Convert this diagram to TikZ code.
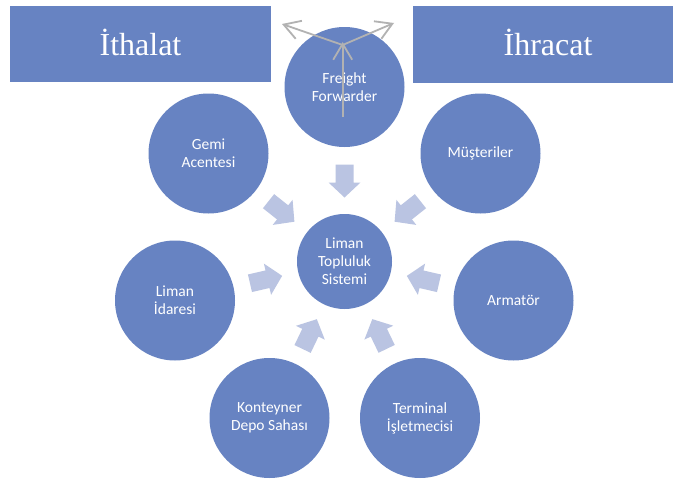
\documentclass[tikz,border=0pt]{standalone}
\usepackage{fontspec}
\setmainfont{Carlito}
\newfontfamily\boxfont{Liberation Serif}
\usetikzlibrary{arrows.meta,calc}
\definecolor{circblue}{RGB}{103,131,194}
\definecolor{arrowblue}{RGB}{186,196,226}
\definecolor{linegray}{RGB}{178,178,178}
\newcommand\inarrow[1]{%
  \coordinate (#1-tip) at ($(c)!64pt!(#1)$);
  \coordinate (#1-hb) at ($(c)!79pt!(#1)$);
  \coordinate (#1-tl) at ($(c)!97pt!(#1)$);
  \fill[arrowblue] ($(#1-tl)!9pt!90:(c)$) -- ($(#1-hb)!9pt!90:(c)$) -- ($(#1-hb)!16pt!90:(c)$) -- (#1-tip) -- ($(#1-hb)!16pt!-90:(c)$) -- ($(#1-hb)!9pt!-90:(c)$) -- ($(#1-tl)!9pt!-90:(c)$) -- cycle;}
\begin{document}
\begin{tikzpicture}[x=1pt,y=-1pt,
  outer/.style={circle, fill=circblue, minimum size=120pt, inner sep=0pt, text=white, align=center, font=\fontsize{15.5}{18}\selectfont},
  hub/.style={outer, minimum size=95pt},
  titlebox/.style={rectangle, fill=circblue, inner sep=0pt, text=white, font=\boxfont\fontsize{32}{38}\selectfont},
  gline/.style={draw=linegray, line width=1.8pt, -{Straight Barb[length=16pt,width=19pt]}}]
\useasboundingbox (0,0) rectangle (673,479);
\fill[white] (0,0) rectangle (673,479);
% title boxes
\node[titlebox, minimum width=261pt, minimum height=76pt] (imp) at (140.5,44) {\raisebox{4pt}{İthalat}};
\node[titlebox, minimum width=270pt, minimum height=77pt] (exp) at (548,44.5) {\raisebox{4pt}{İhracat}};
% circles
\node[hub] (c) at (344.5,261.5) {Liman\\Topluluk\\Sistemi};
\node[outer] (ff) at (344.5,87) {Freight\\Forwarder};
\node[outer] (ga) at (208.5,153.5) {Gemi\\Acentesi};
\node[outer] (mu) at (480.5,153.5) {Müşteriler};
\node[outer] (li) at (175,300.5) {Liman\\İdaresi};
\node[outer] (ar) at (513.5,300.5) {Armatör};
\node[outer] (kd) at (269.5,418) {Konteyner\\Depo Sahası};
\node[outer] (te) at (420,418) {Terminal\\İşletmecisi};
% block arrows
\inarrow{ff}
\inarrow{ga}
\inarrow{mu}
\inarrow{li}
\inarrow{ar}
\inarrow{kd}
\inarrow{te}
% gray arrows
\coordinate (fbot) at (342.7,117);
\coordinate (fup) at (342.7,42);
\coordinate (fj) at (342.7,45);
\coordinate (fl) at (282,24);
\coordinate (fr) at (394,23);
\draw[gline] (fbot) -- (fup);
\draw[gline] (fj) -- (fl);
\draw[gline] (fj) -- (fr);
\end{tikzpicture}
\end{document}
